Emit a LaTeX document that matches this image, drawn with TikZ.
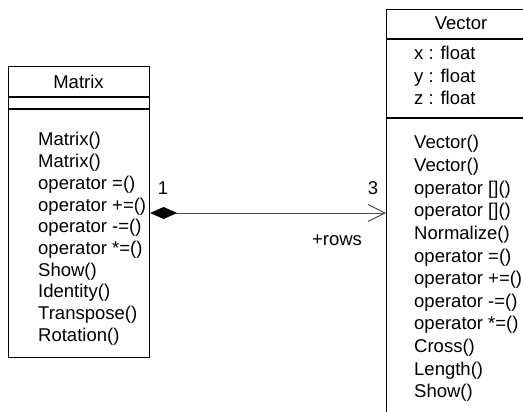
\documentclass[tikz,border=0pt]{standalone}
\usepackage{fontspec}
\setmainfont{Liberation Sans}
\usetikzlibrary{arrows.meta}
\tikzset{
  umlbox/.style={draw=black, line width=1.1pt, inner sep=0pt, anchor=north west},
  sepline/.style={draw=black, line width=1.1pt},
  member/.style={anchor=base west, inner sep=0pt, font=\fontsize{18.5}{20}\selectfont},
  title/.style={anchor=base, inner sep=0pt, font=\fontsize{18.5}{20}\selectfont},
  mult/.style={anchor=base, inner sep=0pt, font=\fontsize{18.5}{20}\selectfont},
  assoc/.style={draw=black!70, line width=1pt}
}
\begin{document}
\begin{tikzpicture}[x=1pt,y=-1pt]
\useasboundingbox (0,0) rectangle (523,412);
\clip (0,0) rectangle (523,412);

% Matrix class
\node[umlbox, minimum width=141pt, minimum height=291pt] (mbox) at (8,66) {};
\draw[sepline] (8,97) -- (149,97);
\draw[sepline] (8,109) -- (149,109);
\node[title] (mtitle) at (78.5,89) {Matrix};
\foreach \t [count=\i from 0] in {Matrix(), Matrix(), operator =(), operator +=(), operator -=(), operator *=(), Show(), Identity(), Transpose(), Rotation()}
  \node[member] (m\i) at (38,146+21.7*\i) {\t};

% Vector class (runs past the page edge)
\node[umlbox, minimum width=150pt, minimum height=430pt] (vbox) at (386,9) {};
\draw[sepline] (386,39) -- (536,39);
\draw[sepline] (386,118) -- (536,118);
\node[title] (vtitle) at (461,30) {Vector};
\node[member] (va1) at (414,60) {x : float};
\node[member] (va2) at (414,83) {y : float};
\node[member] (va3) at (414,105) {z : float};
\foreach \t [count=\i from 0] in {Vector(), Vector(), operator [](), operator [](), Normalize(), operator =(), operator +=(), operator -=(), operator *=(), Cross(), Length(), Show()}
  \node[member] (v\i) at (414,149+22.6*\i) {\t};

% composition Matrix -> Vector
\coordinate (src) at (mbox.east |- 0,213);
\coordinate (dst) at (vbox.west |- 0,213);
\draw[assoc, {Diamond[length=27pt,width=12pt,fill=black,color=black]}-{Straight Barb[length=17pt,width=17pt]}] (src) -- (dst);
\node[mult] (one) at (163,194) {1};
\node[mult] (three) at (373,194) {3};
\node[mult] (role) at (337,245) {+rows};
\end{tikzpicture}
\end{document}
